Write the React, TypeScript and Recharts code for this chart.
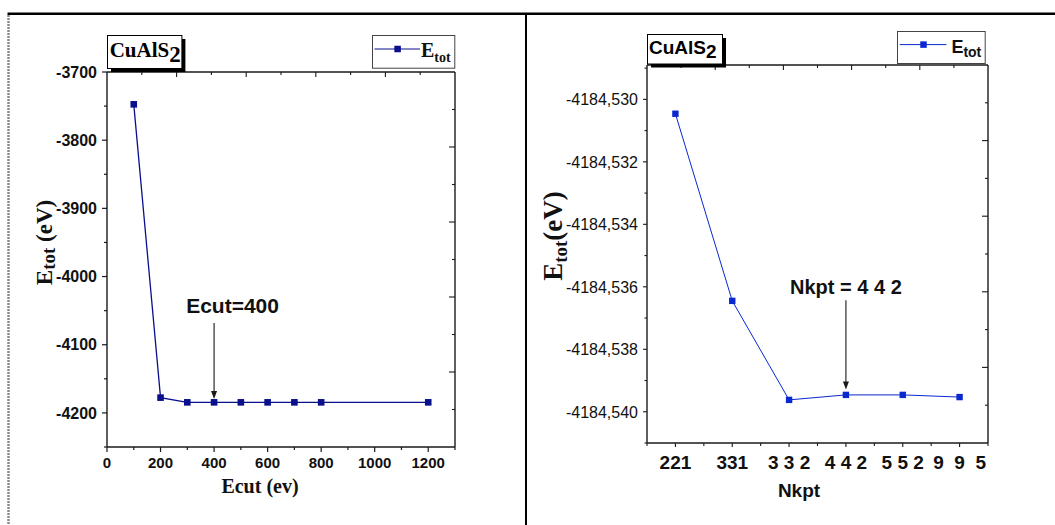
import React from 'react';
import { LineChart, Line, XAxis, YAxis, ReferenceLine, ReferenceDot, Legend } from 'recharts';

// ---------- data ----------
const ecutValues = [100, 200, 300, 400, 500, 600, 700, 800, 1200];
const ecutEnergies = [-3747.4, -4177.6, -4184.5, -4184.5, -4184.5, -4184.5, -4184.5, -4184.5, -4184.5];
const ecutXTicks = [0, 100, 200, 300, 400, 500, 600, 700, 800, 900, 1000, 1100, 1200, 1300];
const ecutYTicks = [-4250, -4200, -4150, -4100, -4050, -4000, -3950, -3900, -3850, -3800, -3750, -3700];

const kptLabels = ['221', '331', '3 3 2', '4 4 2', '5 5 2', '9  9  5'];
const kptEnergies = [-4184.53046, -4184.53645, -4184.53962, -4184.53946, -4184.53946, -4184.53953];
const kptXTicks = [-0.5, 0, 0.5, 1, 1.5, 2, 2.5, 3, 3.5, 4, 4.5, 5, 5.5];
const kptYTicks = [
  -4184.541, -4184.540, -4184.539, -4184.538, -4184.537, -4184.536, -4184.535,
  -4184.534, -4184.533, -4184.532, -4184.531, -4184.530, -4184.529,
];
// the opposite (top / right) frame axes are divided into 10 equal parts
const frameTicks = [0, 1, 2, 3, 4, 5, 6, 7, 8, 9, 10];

const ecutData = ecutValues.map((x, i) => ({ x, E: ecutEnergies[i] }));
const kptData = kptLabels.map((label, i) => ({ idx: i, label, E: kptEnergies[i] }));

// ---------- styles ----------
const AR = 'Liberation Sans, Arial, sans-serif';
const TR = 'Liberation Serif, Times New Roman, serif';
const AX = '#1a1a1a';
const COLOR_L = '#0a0f8c';
const COLOR_R = '#0a28cf';

const squareDot = (color: string, size: number) => (p: any) => {
  const { cx, cy, index } = p;
  if (cx == null || cy == null) return <g key={`n${index}`} />;
  return <rect key={`d${index}`} x={cx - size / 2} y={cy - size / 2} width={size} height={size} fill={color} />;
};

const arrowShape = (p: any) => {
  const { x1, y1, x2, y2 } = p;
  return (
    <g>
      <line x1={x1} y1={y1} x2={x2} y2={y2 - 6} stroke={AX} strokeWidth={1.1} />
      <polygon points={`${x2},${y2} ${x2 - 3},${y2 - 8} ${x2 + 3},${y2 - 8}`} fill={AX} />
    </g>
  );
};

// ---------- ticks ----------
const TopFrameTick = (p: any) => {
  const { x, y, payload } = p;
  const v = payload.value;
  if (v === 0 || v === 10) return <g />;
  const len = v % 2 === 0 ? 5 : 3;
  return <line x1={x} x2={x} y1={y} y2={y + len} stroke={AX} strokeWidth={1.1} />;
};

const RightFrameTick = (p: any) => {
  const { x, y, payload } = p;
  const v = payload.value;
  if (v === 0 || v === 10) return <g />;
  const len = v % 2 === 0 ? 6 : 3;
  return <line x1={x} x2={x - len} y1={y} y2={y} stroke={AX} strokeWidth={1.1} />;
};

const EcutYTick = (p: any) => {
  const { x, y, payload } = p;
  const v = payload.value;
  const major = v % 100 === 0;
  return (
    <g>
      <line x1={x} x2={x - (major ? 5 : 3)} y1={y} y2={y} stroke={AX} strokeWidth={1.2} />
      {major && (
        <text x={x - 10} y={y} dy="0.36em" textAnchor="end" fontFamily={AR} fontWeight="bold" fontSize={16} fill="#111">
          {v}
        </text>
      )}
    </g>
  );
};

const EcutXTick = (p: any) => {
  const { x, y, payload } = p;
  const v = payload.value;
  const major = v % 200 === 0;
  return (
    <g>
      <line x1={x} x2={x} y1={y} y2={y + (major ? 5 : 3)} stroke={AX} strokeWidth={1.2} />
      {major && (
        <text x={x} y={y + 20.5} textAnchor="middle" fontFamily={AR} fontWeight="bold" fontSize={15} fill="#111">
          {v}
        </text>
      )}
    </g>
  );
};

const KptYTick = (p: any) => {
  const { x, y, payload } = p;
  const v = payload.value;
  const major = Math.round(v * 1000) % 2 === 0;
  return (
    <g>
      <line x1={x} x2={x - (major ? 4 : 2.5)} y1={y} y2={y} stroke={AX} strokeWidth={1.1} />
      {major && (
        <text x={x - 9} y={y} dy="0.36em" textAnchor="end" fontFamily={AR} fontSize={16} fill="#111">
          {v.toFixed(3).replace('.', ',')}
        </text>
      )}
    </g>
  );
};

const KptXTick = (p: any) => {
  const { x, y, payload } = p;
  const v = payload.value;
  const major = Number.isInteger(v);
  return (
    <g>
      <line x1={x} x2={x} y1={y} y2={y + (major ? 4 : 3)} stroke={AX} strokeWidth={1.1} />
      {major && (
        <text x={x} y={y + 26} textAnchor="middle" fontFamily={AR} fontWeight="bold" fontSize={19} fill="#111"
          xmlSpace="preserve" style={{ whiteSpace: 'pre' }}>
          {kptLabels[v]}
        </text>
      )}
    </g>
  );
};

// ---------- axis titles ----------
const EcutYTitle = (p: any) => {
  const vb = p.viewBox || {};
  const cx = vb.x + 52;
  const cy = vb.y + vb.height / 2 - 17;
  return (
    <text x={cx} y={cy} transform={`rotate(-90, ${cx}, ${cy})`} textAnchor="middle" fontFamily={TR} fontWeight="bold" fontSize={23} fill="#111">
      E<tspan fontSize={19} dy={3}>tot</tspan><tspan dy={-3}> (eV)</tspan>
    </text>
  );
};

const EcutXTitle = (p: any) => {
  const vb = p.viewBox || {};
  return (
    <text x={vb.x + vb.width / 2 - 21} y={vb.y + 46} textAnchor="middle" fontFamily={TR} fontWeight="bold" fontSize={20} fill="#111">
      Ecut (ev)
    </text>
  );
};

const KptYTitle = (p: any) => {
  const vb = p.viewBox || {};
  const cx = vb.x + 37;
  const cy = vb.y + vb.height / 2 - 18;
  return (
    <text x={cx} y={cy} transform={`rotate(-90, ${cx}, ${cy})`} textAnchor="middle" fontFamily={TR} fontWeight="bold" fontSize={27} fill="#111">
      E<tspan fontSize={19} dy={5}>tot</tspan><tspan dy={-5}>(eV)</tspan>
    </text>
  );
};

const KptXTitle = (p: any) => {
  const vb = p.viewBox || {};
  return (
    <text x={vb.x + vb.width / 2 - 18.5} y={vb.y + 54} textAnchor="middle" fontFamily={AR} fontWeight="bold" fontSize={19} fill="#111">
      Nkpt
    </text>
  );
};

// ---------- legends ----------
const legendLeft = () => (
  <svg width={84} height={34} style={{ display: 'block' }}>
    <rect x={0.5} y={0.5} width={82.3} height={32.7} fill="#fff" stroke="#444" strokeWidth={1} />
    <line x1={2.5} x2={48} y1={14} y2={14} stroke={COLOR_L} strokeWidth={1.2} />
    <rect x={25.6 - 3.25} y={14 - 3.25} width={6.5} height={6.5} fill={COLOR_L} />
    <text x={49} y={21.7} fontFamily={TR} fontWeight="bold" fontSize={20} fill="#111">
      E<tspan fontSize={14} dy={5}>tot</tspan>
    </text>
  </svg>
);

const legendRight = () => (
  <svg width={89} height={33} style={{ display: 'block' }}>
    <rect x={0.5} y={0.5} width={87.7} height={32} fill="#fff" stroke="#444" strokeWidth={1} />
    <line x1={2.7} x2={49.4} y1={13.6} y2={13.6} stroke={COLOR_R} strokeWidth={1} />
    <rect x={26.5 - 3.25} y={13.6 - 3.25} width={6.5} height={6.5} fill={COLOR_R} />
    <text x={54.4} y={22} fontFamily={AR} fontWeight="bold" fontSize={18} fill="#111">
      E<tspan fontSize={14} dy={4}>tot</tspan>
    </text>
  </svg>
);

// ---------- formula boxes ----------
const FormulaBox = ({ left, top, w, h, serif }: any) => (
  <svg style={{ position: 'absolute', left, top, overflow: 'visible' }} width={w + 5} height={h + 5}>
    <rect x={4} y={4} width={w} height={h} fill="#000" />
    <rect x={0.5} y={0.5} width={w} height={h} fill="#fff" stroke="#000" strokeWidth={1} />
    {serif ? (
      <text x={2.7} y={21.7} fontFamily={TR} fontWeight="bold" fontSize={21} fill="#000">
        CuAlS<tspan fontSize={23} dy={5}>2</tspan>
      </text>
    ) : (
      <text x={2} y={20} fontFamily={AR} fontWeight="bold" fontSize={19} fill="#000">
        CuAlS<tspan fontSize={19} dy={4.3}>2</tspan>
      </text>
    )}
  </svg>
);

const ecutFrameKey = (d: any) => d.x / 130;
const kptFrameKey = (d: any) => ((d.idx + 0.5) / 6) * 10;

export default function App() {
  return (
    <div style={{ position: 'absolute', left: 0, top: 0, width: 1055, height: 525, background: '#fff', overflow: 'hidden' }}>
      {/* Left chart: Ecut convergence */}
      <div style={{ position: 'absolute', left: 0, top: 0 }}>
        <LineChart width={525} height={525} data={ecutData} margin={{ top: 62, right: 60, bottom: 38, left: 0 }}>
          <XAxis dataKey="x" type="number" domain={[0, 1300]} ticks={ecutXTicks} interval={0} allowDataOverflow
            tickSize={0} tickMargin={0} height={40} tick={EcutXTick} tickLine={false}
            axisLine={{ stroke: AX, strokeWidth: 1.4 }} label={EcutXTitle} />
          <XAxis xAxisId="t" dataKey={ecutFrameKey} orientation="top" type="number" domain={[0, 10]} ticks={frameTicks} interval={0} allowDataOverflow
            tickSize={0} tickMargin={0} height={10} tick={TopFrameTick} tickLine={false}
            axisLine={{ stroke: AX, strokeWidth: 1.4 }} />
          <YAxis type="number" domain={[-4250, -3700]} ticks={ecutYTicks} interval={0} allowDataOverflow
            tickSize={0} tickMargin={0} width={107} tick={EcutYTick} tickLine={false}
            axisLine={{ stroke: AX, strokeWidth: 1.4 }} label={EcutYTitle} />
          <YAxis yAxisId="r" orientation="right" type="number" domain={[0, 10]} ticks={frameTicks} interval={0} allowDataOverflow
            tickSize={0} tickMargin={0} width={10} tick={RightFrameTick} tickLine={false}
            axisLine={{ stroke: AX, strokeWidth: 1.4 }} />
          <Line type="linear" dataKey="E" stroke={COLOR_L} strokeWidth={1.3} dot={squareDot(COLOR_L, 6.6)}
            activeDot={false} isAnimationActive={false} />
          <ReferenceLine segment={[{ x: 400, y: -4068 }, { x: 400, y: -4179.5 }]} shape={arrowShape} ifOverflow="visible" />
          <ReferenceDot x={469} y={-4053} r={0} ifOverflow="visible"
            shape={(p: any) => (
              <text x={p.cx} y={p.cy} textAnchor="middle" fontFamily={AR} fontWeight="bold" fontSize={21} fill="#111">
                Ecut=400
              </text>
            )} />
          <Legend layout="horizontal" verticalAlign="middle" align="center" content={legendLeft}
            wrapperStyle={{ position: 'absolute', left: 371.5, top: 35, width: 84, height: 34 }} />
        </LineChart>
      </div>

      {/* Right chart: k-point convergence */}
      <div style={{ position: 'absolute', left: 525, top: 0 }}>
        <LineChart width={530} height={525} data={kptData} margin={{ top: 55, right: 57, bottom: 42, left: 0 }}>
          <XAxis dataKey="idx" type="number" domain={[-0.5, 5.5]} ticks={kptXTicks} interval={0} allowDataOverflow
            tickSize={0} tickMargin={0} height={40} tick={KptXTick} tickLine={false}
            axisLine={{ stroke: AX, strokeWidth: 1.4 }} label={KptXTitle} />
          <XAxis xAxisId="t" dataKey={kptFrameKey} orientation="top" type="number" domain={[0, 10]} ticks={frameTicks} interval={0} allowDataOverflow
            tickSize={0} tickMargin={0} height={10} tick={TopFrameTick} tickLine={false}
            axisLine={{ stroke: AX, strokeWidth: 1.4 }} />
          <YAxis type="number" domain={[-4184.541, -4184.5289]} ticks={kptYTicks} interval={0} allowDataOverflow
            tickSize={0} tickMargin={0} width={122} tick={KptYTick} tickLine={false}
            axisLine={{ stroke: AX, strokeWidth: 1.4 }} label={KptYTitle} />
          <YAxis yAxisId="r" orientation="right" type="number" domain={[0, 10]} ticks={frameTicks} interval={0} allowDataOverflow
            tickSize={0} tickMargin={0} width={10} tick={RightFrameTick} tickLine={false}
            axisLine={{ stroke: AX, strokeWidth: 1.4 }} />
          <Line type="linear" dataKey="E" stroke={COLOR_R} strokeWidth={1} dot={squareDot(COLOR_R, 6.4)}
            activeDot={false} isAnimationActive={false} />
          <ReferenceLine segment={[{ x: 3, y: -4184.53643 }, { x: 3, y: -4184.53929 }]} shape={arrowShape} ifOverflow="visible" />
          <ReferenceDot x={3} y={-4184.53624} r={0} ifOverflow="visible"
            shape={(p: any) => (
              <text x={p.cx} y={p.cy} textAnchor="middle" fontFamily={AR} fontWeight="bold" fontSize={20} fill="#111"
                xmlSpace="preserve" style={{ whiteSpace: 'pre' }}>
                Nkpt = 4 4 2
              </text>
            )} />
          <Legend layout="horizontal" verticalAlign="middle" align="center" content={legendRight}
            wrapperStyle={{ position: 'absolute', left: 372.3, top: 30.5, width: 89, height: 33 }} />
        </LineChart>
      </div>

      <FormulaBox left={107.3} top={35} w={74.4} h={33} serif />
      <FormulaBox left={647.3} top={34} w={75} h={29.5} serif={false} />

      {/* page frame */}
      <svg style={{ position: 'absolute', left: 0, top: 0, pointerEvents: 'none' }} width={1055} height={525}>
        <line x1={8.5} x2={8.5} y1={15} y2={525} stroke="#8a8a8a" strokeWidth={2.5} strokeDasharray="2 1" />
        <line x1={7.5} x2={1055} y1={13.75} y2={13.75} stroke="#000" strokeWidth={2.5} />
        <line x1={526} x2={526} y1={13} y2={525} stroke="#000" strokeWidth={2} />
      </svg>
    </div>
  );
}
